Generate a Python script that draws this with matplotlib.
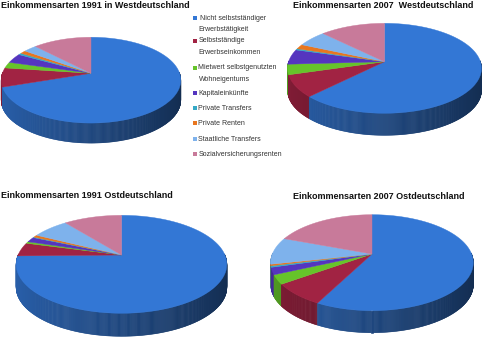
import numpy as np
import matplotlib
matplotlib.use("Agg")
import matplotlib.pyplot as plt
from matplotlib.patches import Polygon, Rectangle
from matplotlib.collections import PolyCollection
from matplotlib.colors import to_rgb

# ---------------- data ----------------
categories = ["Nicht selbstständiger\nErwerbstätigkeit",
              "Selbstständige\nErwerbseinkommen",
              "Mietwert selbstgenutzten\nWohneigentums",
              "Kapitaleinkünfte",
              "Private Transfers",
              "Private Renten",
              "Staatliche Transfers",
              "Sozialversicherungsrenten"]

west_1991 = [69.9, 7.2, 2.3, 3.6, 0.7, 1.2, 2.8, 12.3]
west_2007 = [62.4, 8.0, 3.7, 5.4, 0.5, 1.7, 5.8, 12.5]
ost_1991 = [74.7, 4.5, 0.6, 1.7, 0.2, 0.8, 6.8, 10.7]
ost_2007 = [57.6, 7.5, 3.1, 2.4, 0.5, 0.5, 9.1, 19.3]

titles = ["Einkommensarten 1991 in Westdeutschland",
          "Einkommensarten 2007  Westdeutschland",
          "Einkommensarten 1991 Ostdeutschland",
          "Einkommensarten 2007 Ostdeutschland"]

colors = ["#3377d5", "#a12343", "#66c42a", "#5535bf",
          "#35a9c6", "#e8761f", "#7eb2ec", "#c87a9a"]

# ---------------- figure ----------------
W, H = 484, 338
fig = plt.figure(figsize=(W / 100, H / 100), dpi=100)
ax = fig.add_axes([0, 0, 1, 1])
ax.set_xlim(0, W)
ax.set_ylim(H, 0)
ax.axis("off")


def proj(cx, ya, R, S, p, t):
    w = 1 + p * np.sin(t)
    return cx + R * np.cos(t) / w, ya - S * np.sin(t) / w


def pie3d(values, cx, ya, R, S, p, D):
    vals = np.asarray(values, float)
    cum = np.concatenate([[0], np.cumsum(vals) / vals.sum() * 360.0])
    side_polys, side_cols, side_keys = [], [], []
    for i, c in enumerate(colors):
        a0 = np.radians(90 - cum[i])
        a1 = np.radians(90 - cum[i + 1])
        n = max(3, int(abs(cum[i + 1] - cum[i]) * 2))
        t = np.linspace(a0, a1, n)
        X, Y = proj(cx, ya, R, S, p, t)
        # side quads
        base = np.array(to_rgb(c))
        for j in range(n - 1):
            m = 0.5 * (t[j] + t[j + 1])
            if np.sin(m) < 0.02:
                quad = [(X[j], Y[j]), (X[j + 1], Y[j + 1]),
                        (X[j + 1], Y[j + 1] + D), (X[j], Y[j] + D)]
                f = 0.59 - 0.215 * np.cos(m)
                side_polys.append(quad)
                side_cols.append(tuple(base * f))
                side_keys.append(-np.sin(m))
        top = [(cx, ya)] + list(zip(X, Y))
        ax.add_patch(Polygon(top, closed=True, facecolor=c, edgecolor=c,
                             linewidth=0.3, zorder=3))
    order = np.argsort(side_keys)
    pc = PolyCollection([side_polys[k] for k in order],
                        facecolors=[side_cols[k] for k in order],
                        edgecolors=[side_cols[k] for k in order],
                        linewidths=0.4, zorder=2)
    ax.add_collection(pc)


pie3d(west_1991, 91, 73.3, 88.6, 41.8, 0.16, 20)
pie3d(west_2007, 384.5, 61.7, 95.9, 44.0, 0.147, 22)
pie3d(ost_1991, 121.5, 255, 103.4, 47.2, 0.19, 23)
pie3d(ost_2007, 372, 254, 99.6, 46.4, 0.181, 22)

tfont = dict(family="Liberation Sans", fontweight="bold", fontsize=6.5,
             color="#111111", va="center", ha="left")
ax.text(1, 6, titles[0], **tfont)
ax.text(293, 5.5, titles[1], **tfont)
ax.text(1, 196, titles[2], **tfont)
ax.text(293, 196.5, titles[3], **tfont)

# legend
leg_y = [18.3, 40.7, 67.7, 93.3, 108.3, 123.3, 139.3, 154]
lfont = dict(family="Liberation Sans", fontsize=5.0, color="#333333",
             va="center", ha="left")
for k, (lab, c) in enumerate(zip(categories, colors)):
    y = leg_y[k]
    ax.add_patch(Rectangle((192.5, y - 2), 4, 4, facecolor=c,
                           edgecolor="none", zorder=5))
    lines = lab.split("\n")
    x0 = 200 if k == 0 else 198.5
    ax.text(x0, y, lines[0], **lfont)
    if len(lines) > 1:
        ax.text(198.5, y + 11.5, lines[1], **lfont)

fig.savefig("out.png", dpi=100)
